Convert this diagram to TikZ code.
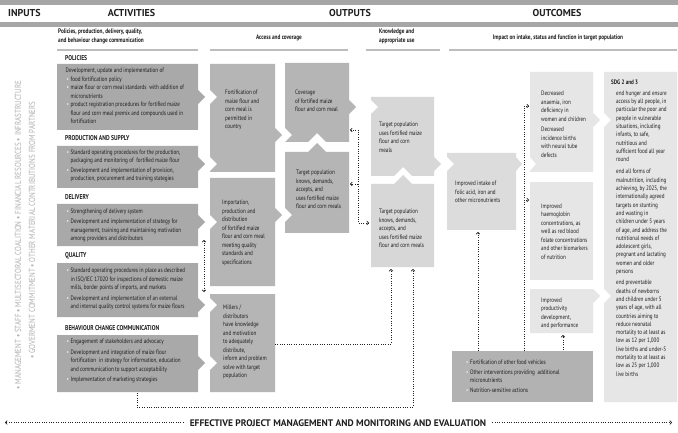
\documentclass[tikz,border=0pt]{standalone}
\usepackage{fontspec}
\setmainfont{PT Sans}[FakeStretch=0.8]
\newfontfamily\hdrfont{PT Sans}
\usetikzlibrary{arrows.meta}
\definecolor{barc}{HTML}{A6A6A6}
\definecolor{linec}{HTML}{BDBDBD}
\definecolor{actc}{HTML}{A9A9A9}
\definecolor{accc}{HTML}{B5B5B5}
\definecolor{knowc}{HTML}{D7D7D7}
\definecolor{intc}{HTML}{DCDCDC}
\definecolor{outc}{HTML}{E6E6E6}
\definecolor{othc}{HTML}{B2B2B2}
\definecolor{txtc}{HTML}{1E1E1E}
\definecolor{vtc}{HTML}{B0B0B0}
\definecolor{dotc}{HTML}{222222}
\definecolor{bulc}{HTML}{EEEEEE}
\newcommand\bxf{\fontsize{6.4}{8.5}\selectfont}
\newcommand\bul{\hspace*{1pt}\makebox[4pt][l]{\textcolor{bulc}{\textbullet}}}
\newcommand\ind{\hspace*{5pt}}
\tikzset{
 boxtxt/.style={font=\bxf, text=txtc, align=left, anchor=north west, inner sep=0pt},
 hdr/.style={font=\hdrfont\bfseries\fontsize{10}{12}\selectfont, text=txtc, inner sep=0pt},
 subhdr/.style={font=\bfseries\fontsize{6.6}{8.5}\selectfont, text=txtc, inner sep=0pt, align=left},
 sect/.style={font=\bfseries\fontsize{7}{8}\selectfont, text=txtc, inner sep=0pt, anchor=base west},
 vtext/.style={font=\fontsize{8.8}{10}\selectfont, text=vtc, inner sep=0pt, rotate=90},
 dotl/.style={draw=dotc, line width=0.85pt, dash pattern=on 0.85pt off 1.5pt},
 tipa/.tip={Straight Barb[length=1.8pt,width=3.8pt,line width=0.6pt]},
}
\begin{document}
\begin{tikzpicture}[x=1pt,y=-1pt]
\useasboundingbox (0,0) rectangle (678,433);
\fill[white] (0,0) rectangle (678,433);
% header bars
\fill[barc] (0,0) rectangle (678,5);
\fill[barc] (0,22) rectangle (678,27);
\node[hdr, anchor=base west] (hin) at (8,17) {INPUTS};
\node[hdr, anchor=base] (hact) at (131.5,17) {ACTIVITIES};
\node[hdr, anchor=base] (hout) at (350,17) {OUTPUTS};
\node[hdr, anchor=base] (hocm) at (557,17) {OUTCOMES};
% sub headers
\node[subhdr, anchor=north west] (sact) at (58,29) {Policies, production, delivery, quality,\\and behaviour change communication};
\node[subhdr, anchor=base] (sacc) at (279,40) {Access and coverage};
\node[subhdr, anchor=north west] (sknw) at (379,29) {Knowledge and\\appropriate use};
\node[subhdr, anchor=base] (simp) at (558,40) {Impact on intake, status and function in target population};
\fill[linec] (57,49) rectangle (198,51);
\fill[linec] (210,49) rectangle (348,51);
\fill[linec] (366,49) rectangle (440,51);
\fill[linec] (449,49) rectangle (677,51);
% vertical input text
\node[vtext] (vin1) at (18,235) {• MANAGEMENT • STAFF • MULTISECTORAL COALITION • FINANCIAL RESOURCES • INFRASTRUCTURE};
\node[vtext] (vin2) at (32,230) {• GOVERMENT COMMITMENT • OTHER MATERIAL CONTRIBUTIONS FROM PARTNERS};
% section labels
\node[sect] (lpol) at (65,60.5) {POLICIES};
\node[sect] (lpro) at (65,140.5) {PRODUCTION AND SUPPLY};
\node[sect] (ldel) at (65,199.5) {DELIVERY};
\node[sect] (lqua) at (65,257.5) {QUALITY};
\node[sect] (lbcc) at (65,330.5) {BEHAVIOUR CHANGE COMMUNICATION};
% activity boxes
\fill[actc] (57,64) -- (198,64) -- (198,90) -- (205,97) -- (198,104) -- (198,130) -- (57,130) -- cycle;
\fill[actc] (57,146) -- (198,146) -- (198,157) -- (205,164) -- (198,171) -- (198,188) -- (57,188) -- cycle;
\fill[actc] (57,204) -- (198,204) -- (198,215) -- (205,222) -- (198,229) -- (198,246) -- (57,246) -- cycle;
\fill[actc] (57,263) -- (198,263) -- (198,298) -- (205,305) -- (198,312) -- (198,317) -- (57,317) -- cycle;
\fill[actc] (57,335) -- (198,335) -- (198,356) -- (205,363) -- (198,370) -- (198,392) -- (57,392) -- cycle;
% access boxes
\fill[accc] (210,64) -- (275,64) -- (275,128) -- (282,135) -- (275,142) -- (275,172) -- (210,172) -- (210,171) -- (217,164) -- (210,157) -- (210,104) -- (217,97) -- (210,90) -- cycle;
\fill[accc] (210,178) -- (275,178) -- (275,208) -- (282,215) -- (275,222) -- (275,286) -- (210,286) -- (210,229) -- (217,222) -- (210,215) -- cycle;
\fill[accc] (210,294) -- (275,294) -- (275,392) -- (210,392) -- (210,370) -- (217,363) -- (210,356) -- (210,312) -- (217,305) -- (210,298) -- cycle;
\fill[accc] (285,63) -- (349,63) -- (349,100) -- (356,107) -- (349,114) -- (349,142) -- (326,142) -- (317,133) -- (308,142) -- (285,142) -- (292,135) -- (285,128) -- cycle;
\fill[accc] (285,152) -- (308,152) -- (317,143) -- (326,152) -- (349,152) -- (349,233) -- (285,233) -- (285,222) -- (292,215) -- (285,208) -- cycle;
% knowledge boxes
\fill[knowc] (371,97) -- (434,97) -- (434,157) -- (441,164) -- (434,171) -- (434,176) -- (412,176) -- (403,167) -- (394,176) -- (371,176) -- (371,114) -- (378,107) -- (371,100) -- cycle;
\fill[knowc] (371,184) -- (394,184) -- (403,175) -- (412,184) -- (434,184) -- (434,267) -- (371,267) -- cycle;
% intake
\fill[intc] (447,153) -- (516,153) -- (516,157) -- (522,164) -- (516,171) -- (516,230) -- (447,230) -- (447,171) -- (454,164) -- (447,157) -- cycle;
% outcomes
\fill[outc] (530,72) -- (593,72) -- (593,113) -- (600,120) -- (593,127) -- (593,172) -- (530,172) -- (530,171) -- (536,164) -- (530,157) -- cycle;
\fill[outc] (530,182) rectangle (593,280);
\fill[outc] (530,289) -- (593,289) -- (593,289) -- (600,296) -- (593,303) -- (593,333) -- (530,333) -- cycle;
\fill[outc] (604,72) -- (677,72) -- (677,402) -- (604,402) -- (604,303) -- (611,296) -- (604,289) -- (604,127) -- (611,120) -- (604,113) -- cycle;
\fill[othc] (452,351) rectangle (593,402);
% activity texts
\node[boxtxt] (tpol) at (65.5,67.8) {Development, update and implementation of\\
\bul food fortification policy\\
\bul maize flour or corn meal standards\ \ with addition of\\
\ind micronutrients\\
\bul product registration procedures for fortified maize\\
\ind flour and corn meal premix and compounds used in\\
\ind fortification};
\node[boxtxt] (tpro) at (65.5,149.5) {\bul Standard operating procedures for the production,\\
\ind packaging and monitoring of\ \ fortified maize flour\\[1pt]
\bul Development and implementation of provision,\\
\ind production, procurement and training stategies};
\node[boxtxt] (tdel) at (65.5,208.5) {\bul Strengthening of delivery system\\[2pt]
\bul Development and implementation of strategy for\\
\ind management, training and maintaining motivation\\
\ind among providers and distributors};
\node[boxtxt] (tqua) at (65.5,267.8) {\bul Standard operating procedures in place as described\\
\ind in ISO/IEC 17020 for inspections of domestic maize\\
\ind mills, border points of imports, and markets\\[2pt]
\bul Development and implementation of an external\\
\ind and internal quality control systems for maize flours};
\node[boxtxt] (tbcc) at (65.5,339) {\bul Engagement of stakeholders and advocacy\\[2pt]
\bul Development and integration of maize flour\\
\ind fortification\ \ in strategy for information, education\\
\ind and communication to support acceptability\\[2pt]
\bul Implementation of marketing strategies};
% access texts
\node[boxtxt] (tfor) at (225,89.8) {Fortification of\\maize flour and\\corn meal is\\permitted in\\country};
\node[boxtxt] (timp) at (222,199.8) {Importation,\\production and\\distribution\\of fortified maize\\flour and corn meal\\meeting quality\\standards and\\specifications};
\node[boxtxt] (tmil) at (223,304.8) {Millers /\\distributors\\have knowledge\\and motivation\\to adequately\\distribute,\\inform and problem\\solve with target\\population};
\node[boxtxt] (tcov) at (295,89.8) {Coverage\\of fortified maize\\flour and corn meal};
\node[boxtxt] (ttar) at (296,169.8) {Target population\\knows, demands,\\accepts, and\\uses fortified maize\\flour and corn meals};
% knowledge texts
\node[boxtxt] (tk1) at (379,121.8) {Target population\\uses fortified maize\\flour and corn\\meals};
\node[boxtxt] (tk2) at (379,208.8) {Target population\\knows, demands,\\accepts, and\\uses fortified maize\\flour and corn meals};
\node[boxtxt] (tint) at (455,180.8) {Improved intake of\\folic acid, iron and\\other micronutrients};
% outcome texts
\node[boxtxt] (to1) at (536,90.8) {\bul Decreased\\\ind anaemia, iron\\\ind deficiency in\\\ind women and children\\[2pt]\bul Decreased\\\ind incidence births\\\ind with neural tube\\\ind defects};
\node[boxtxt] (to2) at (541,203.8) {Improved\\haemoglobin\\concentrations, as\\well as red blood\\folate concentrations\\and other biomarkers\\of nutrition};
\node[boxtxt] (to3) at (541,297.8) {Improved\\productivity\\development,\\and performance};
\node[boxtxt, font=\fontsize{6.4}{8.3}\selectfont] (tsdg) at (611,79.5) {\textbf{SDG 2 and 3}\\[2.7pt]
\bul end hunger and ensure\\\ind access by all people, in\\\ind particular the poor and\\\ind people in vulnerable\\\ind situations, including\\\ind infants, to safe,\\\ind nutritious and\\\ind sufficient food all year\\\ind round\\[4pt]
\bul end all forms of\\\ind malnutrition, including\\\ind achieving, by 2025, the\\\ind internationally agreed\\\ind targets on stunting\\\ind and wasting in\\\ind children under 5 years\\\ind of age, and address the\\\ind nutritional needs of\\\ind adolescent girls,\\\ind pregnant and lactating\\\ind women and older\\\ind persons\\[3pt]
\bul end preventable\\\ind deaths of newborns\\\ind and children under 5\\\ind years of age, with all\\\ind countries aiming to\\\ind reduce neonatal\\\ind mortality to at least as\\\ind low as 12 per 1,000\\\ind live births and under-5\\\ind mortality to at least as\\\ind low as 25 per 1,000\\\ind live births};
\node[boxtxt] (toth) at (465,359.8) {\bul Fortification of other food vehicles\\[1pt]
\bul Other interventions providing\ \ additional\\\ind micronutrients\\[1pt]
\bul Nutrition-sensitive actions};
% dotted connectors
\coordinate (d1a) at (204,240); \coordinate (d1b) at (204,292);
\draw[dotl, tipa-tipa] (d1a) -- (d1b);
\coordinate (covR) at (350,130); \coordinate (tarR) at (350,184); \coordinate (k2L) at (369,223);
\draw[dotl, tipa-tipa] (covR) -- (358,130) -- (358,223) -- (k2L);
\draw[dotl, -tipa] (358,184) -- (tarR);
\coordinate (milR) at (275,344); \coordinate (k2B1) at (391,269);
\draw[dotl, -tipa] (milR) -- (391,344) -- (k2B1);
\coordinate (bccB) at (137,393); \coordinate (k2B2) at (413,269);
\draw[dotl, -tipa] (bccB) -- (137,407) -- (413,407) -- (k2B2);
\coordinate (othT1) at (478,351); \coordinate (intB) at (478,232);
\draw[dotl, -tipa] (othT1) -- (intB);
\coordinate (othT2) at (524,351); \coordinate (o1L) at (529,106); \coordinate (o2L) at (529,200);
\draw[dotl, -tipa] (othT2) -- (524,106) -- (o1L);
\draw[dotl, -tipa] (524,200) -- (o2L);
\coordinate (othT3) at (563,350); \coordinate (o3B) at (563,335);
\draw[dotl, -tipa] (othT3) -- (o3B);
% bottom
\node[hdr, font=\hdrfont\bfseries\fontsize{9.5}{11}\selectfont, anchor=base] (bot) at (338,426) {EFFECTIVE PROJECT MANAGEMENT AND MONITORING AND EVALUATION};
\coordinate (bl) at (5,422.5); \coordinate (br) at (672,422.5);
\draw[dotl, -tipa] ([xshift=-6pt]bot.west |- bl) -- (bl);
\draw[dotl, -tipa] ([xshift=6pt]bot.east |- br) -- (br);
\end{tikzpicture}
\end{document}
